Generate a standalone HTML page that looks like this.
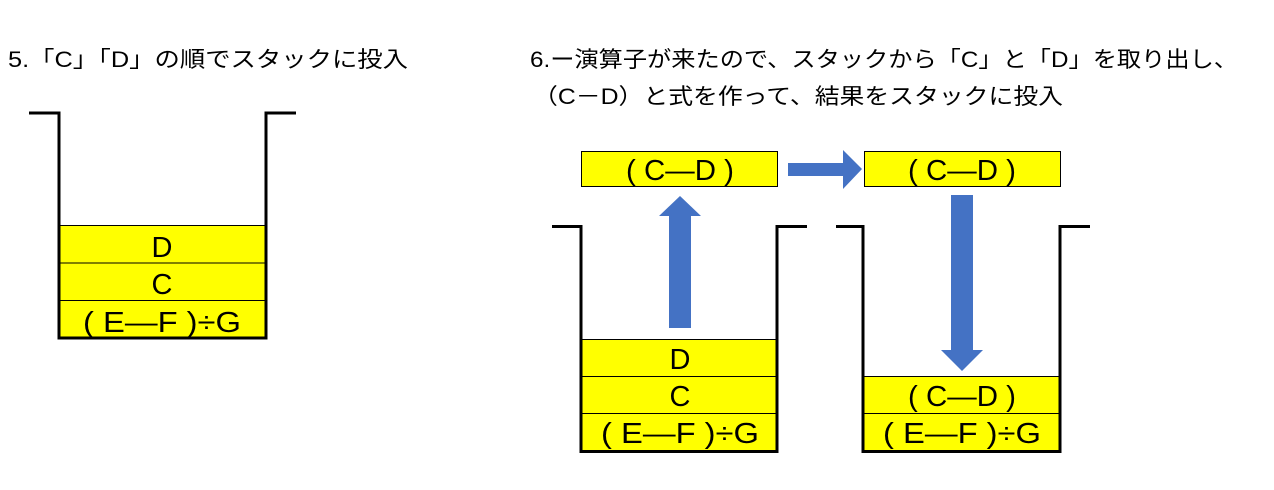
<!DOCTYPE html>
<html><head><meta charset="utf-8"><style>
html,body{margin:0;padding:0;background:#fff;}
svg{display:block;}
text{font-family:"Liberation Sans","Noto Sans CJK JP",sans-serif;fill:#000;}
</style></head><body>
<svg width="1274" height="490" viewBox="0 0 1274 490" xmlns="http://www.w3.org/2000/svg">
<text x="8" y="67" font-size="22" textLength="400" lengthAdjust="spacingAndGlyphs">5.「C」「D」の順でスタックに投入</text>
<text x="530" y="67" font-size="22" textLength="708" lengthAdjust="spacingAndGlyphs">6.ー演算子が来たので、スタックから「C」と「D」を取り出し、</text>
<text x="533" y="104" font-size="22" textLength="530" lengthAdjust="spacingAndGlyphs">（C－D）と式を作って、結果をスタックに投入</text>

<g font-size="29" text-anchor="middle">
<!-- left stack -->
<rect x="60" y="225" width="205" height="112" fill="#ffff00"/>
<line x1="60" y1="225.5" x2="265" y2="225.5" stroke="#000" stroke-width="1"/>
<line x1="60" y1="263" x2="265" y2="263" stroke="#000" stroke-width="1"/>
<line x1="60" y1="300.5" x2="265" y2="300.5" stroke="#000" stroke-width="1"/>
<polyline points="29,113 59,113 59,338 266,338 266,113 296,113" fill="none" stroke="#000" stroke-width="3"/>
<text x="162" y="257">D</text>
<text x="162" y="294">C</text>
<text x="162" y="332" textLength="158" lengthAdjust="spacingAndGlyphs">( E—F )÷G</text>

<!-- middle stack -->
<rect x="582" y="339" width="195" height="112" fill="#ffff00"/>
<line x1="582" y1="339.5" x2="777" y2="339.5" stroke="#000" stroke-width="1"/>
<line x1="582" y1="376.5" x2="777" y2="376.5" stroke="#000" stroke-width="1"/>
<line x1="582" y1="413.5" x2="777" y2="413.5" stroke="#000" stroke-width="1"/>
<polyline points="552,226.5 581,226.5 581,451.5 777,451.5 777,226.5 807,226.5" fill="none" stroke="#000" stroke-width="3"/>
<text x="680" y="369">D</text>
<text x="680" y="406">C</text>
<text x="680" y="443" textLength="158" lengthAdjust="spacingAndGlyphs">( E—F )÷G</text>

<!-- right stack -->
<rect x="864" y="376" width="196" height="75" fill="#ffff00"/>
<line x1="864" y1="376.5" x2="1060" y2="376.5" stroke="#000" stroke-width="1"/>
<line x1="864" y1="413.5" x2="1060" y2="413.5" stroke="#000" stroke-width="1"/>
<polyline points="836,226.5 863,226.5 863,451.5 1060,451.5 1060,226.5 1090,226.5" fill="none" stroke="#000" stroke-width="3"/>
<text x="962" y="406" textLength="108" lengthAdjust="spacingAndGlyphs">( C—D )</text>
<text x="962" y="443" textLength="158" lengthAdjust="spacingAndGlyphs">( E—F )÷G</text>

<!-- top boxes -->
<rect x="581.5" y="151.5" width="196" height="35" fill="#ffff00" stroke="#000" stroke-width="1"/>
<text x="680" y="180" textLength="108" lengthAdjust="spacingAndGlyphs">( C—D )</text>
<rect x="864.5" y="151.5" width="196" height="35" fill="#ffff00" stroke="#000" stroke-width="1"/>
<text x="962" y="180" textLength="108" lengthAdjust="spacingAndGlyphs">( C—D )</text>
</g>

<!-- arrows -->
<polygon points="669,328 691,328 691,216 701,216 680,196 659,216 669,216" fill="#4472c4"/>
<polygon points="788,163 843,163 843,150 862,169 843,189 843,176 788,176" fill="#4472c4"/>
<polygon points="951,195 973,195 973,350 983,350 962,371 941,350 951,350" fill="#4472c4"/>
</svg>
</body></html>
